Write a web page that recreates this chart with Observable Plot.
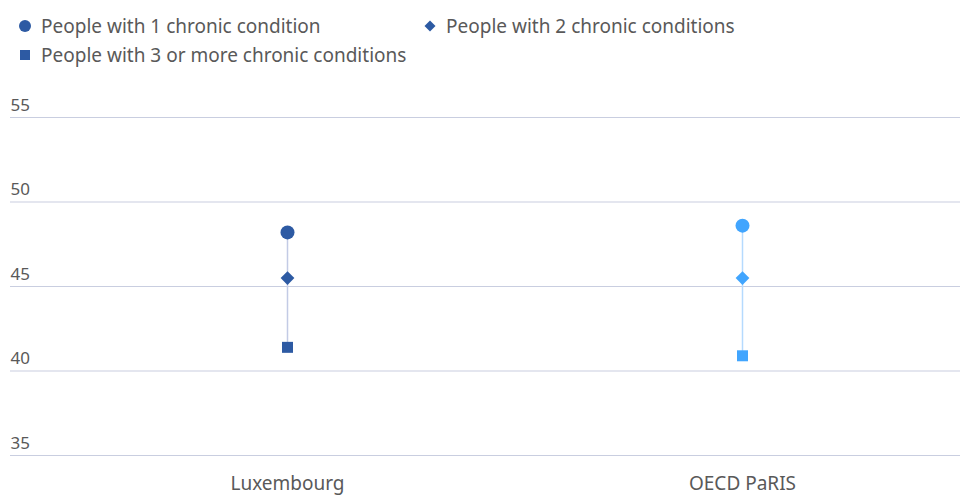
<!DOCTYPE html>
<html>
<head>
<meta charset="utf-8">
<script src="https://cdn.jsdelivr.net/npm/d3@7"></script>
<script src="https://cdn.jsdelivr.net/npm/@observablehq/plot@0.6"></script>
<style>
  html, body { margin: 0; padding: 0; background: #fff; }
  body { width: 960px; height: 497px; overflow: hidden; font-family: "Noto Sans", sans-serif; }
  #legend { position: relative; height: 75px; color: #595959; font-size: 19px; }
  .item { position: absolute; display: flex; align-items: center; white-space: nowrap; }
  .item svg { margin-right: 8px; }
</style>
</head>
<body>
<div id="legend"></div>
<div id="chart"></div>
<script>
const categories = ["Luxembourg", "OECD PaRIS"];
const oneCondition = [48.2, 48.6];
const twoConditions = [45.5, 45.5];
const threeOrMore = [41.4, 40.9];
const yTicks = [35, 40, 45, 50, 55];
const seriesNames = ["People with 1 chronic condition", "People with 2 chronic conditions", "People with 3 or more chronic conditions"];

const markColors = ["#2d5aa3", "#41a5fe"];
const lineColors = ["#c3cbe5", "#b5dafe"];
const legendColor = "#2d5aa3";

const data = categories.map((c, i) => ({
  category: c, one: oneCondition[i], two: twoConditions[i], three: threeOrMore[i],
  mark: markColors[i], line: lineColors[i]
}));

// Legend
const legend = document.getElementById("legend");
const legendItems = [
  {name: seriesNames[0], shape: "circle", left: 17, top: 14},
  {name: seriesNames[1], shape: "diamond", left: 422, top: 14},
  {name: seriesNames[2], shape: "square", left: 17, top: 43}
];
for (const it of legendItems) {
  const div = document.createElement("div");
  div.className = "item";
  div.style.left = it.left + "px";
  div.style.top = it.top + "px";
  div.style.height = "24px";
  let shape;
  if (it.shape === "circle") shape = `<circle cx="8" cy="8" r="6" fill="${legendColor}"/>`;
  else if (it.shape === "diamond") shape = `<path d="M8,2.5L13.5,8L8,13.5L2.5,8Z" fill="${legendColor}"/>`;
  else shape = `<rect x="3" y="3" width="10" height="10" fill="${legendColor}"/>`;
  div.innerHTML = `<svg width="16" height="16">${shape}</svg><span>${it.name}</span>`;
  legend.appendChild(div);
}

const chart = Plot.plot({
  width: 960,
  height: 422,
  marginTop: 42,
  marginBottom: 42,
  marginLeft: 10,
  marginRight: 0,
  style: {fontFamily: "Noto Sans, sans-serif", fontSize: "17px", color: "#595959", background: "#fff"},
  x: {type: "point", domain: categories, range: [287, 742], padding: 0, label: null},
  y: {domain: [35, 55], label: null},
  marks: [
    Plot.ruleY(yTicks, {stroke: "#c9cee0", strokeWidth: 1.2}),
    Plot.axisY(yTicks, {tickSize: 0, tickPadding: 0, textAnchor: "start", dx: 0, dy: -12, fontSize: 17, fill: "#595959", label: null}),
    Plot.axisX({tickSize: 0, tickPadding: 21, fontSize: 19, fill: "#595959", label: null}),
    Plot.ruleX(data, {x: "category", y1: "three", y2: "one", stroke: "line", strokeWidth: 1.5}),
    Plot.dot(data, {x: "category", y: "one", symbol: "circle", r: 7, fill: "mark", stroke: "none"}),
    Plot.dot(data, {x: "category", y: "two", symbol: "diamond2", r: 6.2, fill: "mark", stroke: "none"}),
    Plot.dot(data, {x: "category", y: "three", symbol: "square", r: 6.2, fill: "mark", stroke: "none"})
  ]
});
document.getElementById("chart").appendChild(chart);
</script>
</body>
</html>
